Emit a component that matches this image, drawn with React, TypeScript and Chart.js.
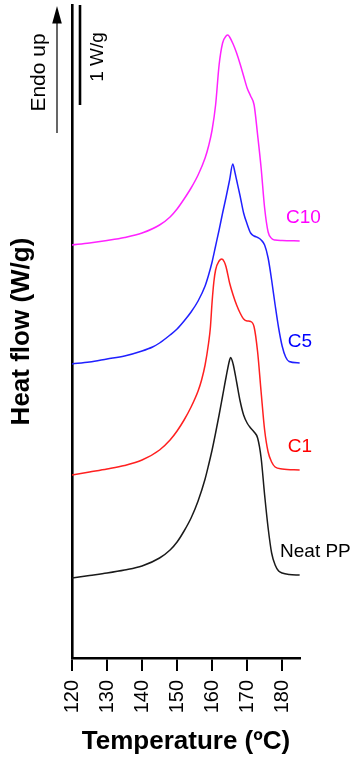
import React, { useEffect, useRef } from "react";
import { Chart, registerables } from "chart.js";

Chart.register(...registerables);

// ---- axis ----
const xTicks = [120, 130, 140, 150, 160, 170, 180];
const xMin = 120;
const xMax = 185.1;
const yMin = 0;
const yMax = 6.53;

// ---- series (heat flow, W/g, curves shifted vertically) ----
const neatTemp = [120, 125, 130, 135, 140, 145, 148, 150, 152, 154, 156, 158, 159, 160, 161, 162, 163, 164, 165, 165.3, 166, 167, 168, 169, 170, 171, 172, 173, 174, 175, 176, 177, 178, 179, 180, 182, 185];
const neatFlow = [0.8, 0.825, 0.85, 0.88, 0.92, 1.0, 1.08, 1.16, 1.27, 1.4, 1.57, 1.79, 1.93, 2.08, 2.25, 2.43, 2.62, 2.81, 2.98, 3.005, 2.94, 2.76, 2.57, 2.43, 2.35, 2.3, 2.26, 2.2, 2.0, 1.63, 1.3, 1.05, 0.93, 0.87, 0.85, 0.835, 0.83];

const c1Temp = [120, 125, 130, 135, 140, 145, 148, 150, 152, 154, 156, 157, 158, 159, 159.5, 160, 160.5, 161, 162, 162.8, 163.5, 164, 165, 166, 167, 168, 169, 170, 171, 172, 173, 174, 175, 176, 177, 178, 180, 185];
const c1Flow = [1.83, 1.86, 1.89, 1.925, 1.98, 2.08, 2.18, 2.27, 2.38, 2.51, 2.67, 2.78, 2.93, 3.15, 3.3, 3.56, 3.76, 3.88, 3.97, 3.99, 3.96, 3.91, 3.75, 3.63, 3.53, 3.45, 3.39, 3.37, 3.365, 3.31, 3.06, 2.66, 2.28, 2.06, 1.96, 1.91, 1.89, 1.88];

const c5Temp = [120, 125, 130, 135, 140, 143, 145, 148, 150, 152, 154, 156, 158, 159, 160, 161, 162, 163, 164, 165, 165.9, 166.5, 167, 168, 169, 170, 171, 172, 173, 174, 175, 176, 177, 178, 179, 180, 181, 182, 185];
const c5Flow = [2.94, 2.96, 2.99, 3.02, 3.07, 3.11, 3.15, 3.23, 3.29, 3.37, 3.46, 3.57, 3.72, 3.83, 3.96, 4.12, 4.28, 4.45, 4.61, 4.78, 4.94, 4.86, 4.78, 4.62, 4.45, 4.34, 4.25, 4.22, 4.205, 4.18, 4.13, 4.0, 3.78, 3.53, 3.3, 3.12, 3.01, 2.965, 2.95];

const c10Temp = [120, 125, 130, 135, 140, 145, 148, 150, 152, 154, 156, 158, 159, 160, 161, 162, 163, 164, 164.5, 165, 166, 167, 168, 169, 170, 171, 172, 173, 174, 175, 176, 177, 178, 180, 185];
const c10Flow = [4.13, 4.15, 4.175, 4.205, 4.25, 4.33, 4.41, 4.49, 4.59, 4.7, 4.83, 5.0, 5.12, 5.28, 5.53, 5.93, 6.15, 6.22, 6.23, 6.21, 6.14, 6.05, 5.94, 5.82, 5.7, 5.62, 5.53, 5.23, 4.9, 4.5, 4.26, 4.195, 4.18, 4.175, 4.17];

const seriesNames = ["Neat PP", "C1", "C5", "C10"];
const seriesTemps = [neatTemp, c1Temp, c5Temp, c10Temp];
const seriesFlows = [neatFlow, c1Flow, c5Flow, c10Flow];
const lineColors = ["#1a1a1a", "#ff2020", "#2020ff", "#ff22ff"];
const labelColors = ["#000000", "#ff0000", "#0000ff", "#ff00ff"];
// label anchor (temperature, heat flow) for each series name
const labelTemp = [179.4, 181.6, 181.6, 181.1];
const labelFlow = [1.06, 2.11, 3.16, 4.4];

const FONT = '"Liberation Sans", Arial, sans-serif';

const annotate = {
  id: "annotate",
  afterDraw(chart: any) {
    const { ctx, chartArea, scales } = chart;
    const x = scales.x;
    const y = scales.y;
    ctx.save();
    // series names
    ctx.font = `19px ${FONT}`;
    ctx.textAlign = "left";
    ctx.textBaseline = "middle";
    seriesNames.forEach((n, i) => {
      ctx.fillStyle = labelColors[i];
      ctx.fillText(n, x.getPixelForValue(labelTemp[i]), y.getPixelForValue(labelFlow[i]));
    });

    // 1 W/g scale bar
    const barX = chartArea.left + 8;
    ctx.strokeStyle = "#000";
    ctx.lineWidth = 2.6;
    ctx.beginPath();
    ctx.moveTo(barX, y.getPixelForValue(yMax));
    ctx.lineTo(barX, y.getPixelForValue(yMax - 1));
    ctx.stroke();

    ctx.fillStyle = "#000";
    ctx.save();
    ctx.translate(chartArea.left + 31, y.getPixelForValue(yMax - 0.52));
    ctx.rotate(-Math.PI / 2);
    ctx.font = `19px ${FONT}`;
    ctx.textAlign = "center";
    ctx.textBaseline = "alphabetic";
    ctx.fillText("1 W/g", 0, 0);
    ctx.restore();

    // Endo up arrow
    const ax = chartArea.left - 15;
    const top = chartArea.top;
    ctx.lineWidth = 1.2;
    ctx.beginPath();
    ctx.moveTo(ax, top + 128);
    ctx.lineTo(ax, top + 14);
    ctx.stroke();
    ctx.beginPath();
    ctx.moveTo(ax, top + 1);
    ctx.lineTo(ax - 4.8, top + 18.5);
    ctx.lineTo(ax + 4.8, top + 18.5);
    ctx.closePath();
    ctx.fill();

    ctx.save();
    ctx.translate(chartArea.left - 27, top + 67.5);
    ctx.rotate(-Math.PI / 2);
    ctx.font = `21px ${FONT}`;
    ctx.textAlign = "center";
    ctx.textBaseline = "alphabetic";
    ctx.fillText("Endo up", 0, 0);
    ctx.restore();

    ctx.restore();
  },
};

export default function App() {
  const canvasRef = useRef<HTMLCanvasElement | null>(null);

  useEffect(() => {
    if (!canvasRef.current) return;
    const chart = new Chart(canvasRef.current, {
      type: "line",
      data: {
        datasets: seriesNames.map((name, i) => ({
          label: name,
          data: seriesTemps[i].map((t, j) => ({ x: t, y: seriesFlows[i][j] })),
          borderColor: lineColors[i],
          borderWidth: 1.5,
          pointRadius: 0,
          fill: false,
          cubicInterpolationMode: "monotone" as const,
        })),
      },
      options: {
        animation: false,
        responsive: false,
        devicePixelRatio: 1,
        layout: { padding: { top: 5, right: 52, bottom: 0, left: 0 } },
        plugins: {
          legend: { display: false },
          tooltip: { enabled: false },
        },
        scales: {
          x: {
            type: "linear",
            position: "bottom",
            min: xMin,
            max: xMax,
            afterBuildTicks: (scale: any) => {
              scale.ticks = xTicks.map((v) => ({ value: v }));
            },
            afterFit: (scale: any) => {
              scale.height = 101;
            },
            ticks: {
              autoSkip: false,
              minRotation: 90,
              maxRotation: 90,
              padding: 9,
              color: "#000",
              font: { family: FONT, size: 20 },
            },
            grid: {
              display: true,
              drawOnChartArea: false,
              drawTicks: true,
              tickLength: 13,
              color: "#000",
              lineWidth: 2,
            },
            border: { display: true, color: "#000", width: 2.6 },
            title: {
              display: true,
              text: "Temperature (ºC)",
              color: "#000",
              font: { family: FONT, size: 26, weight: "bold" },
              padding: { top: 0, bottom: 1.4 },
            },
          },
          y: {
            type: "linear",
            min: yMin,
            max: yMax,
            afterFit: (scale: any) => {
              scale.width = 72;
            },
            ticks: { display: false },
            grid: { display: false },
            border: { display: true, color: "#000", width: 2.6 },
            title: {
              display: true,
              text: "Heat flow (W/g)",
              color: "#000",
              font: { family: FONT, size: 26, weight: "bold" },
              padding: { top: 6.4, bottom: 0 },
            },
          },
        },
      },
      plugins: [annotate],
    });
    return () => chart.destroy();
  }, []);

  return (
    <div style={{ position: "absolute", left: 0, top: 0, width: 352, height: 759, background: "#fff" }}>
      <canvas ref={canvasRef} width={352} height={759} style={{ display: "block" }} />
    </div>
  );
}
